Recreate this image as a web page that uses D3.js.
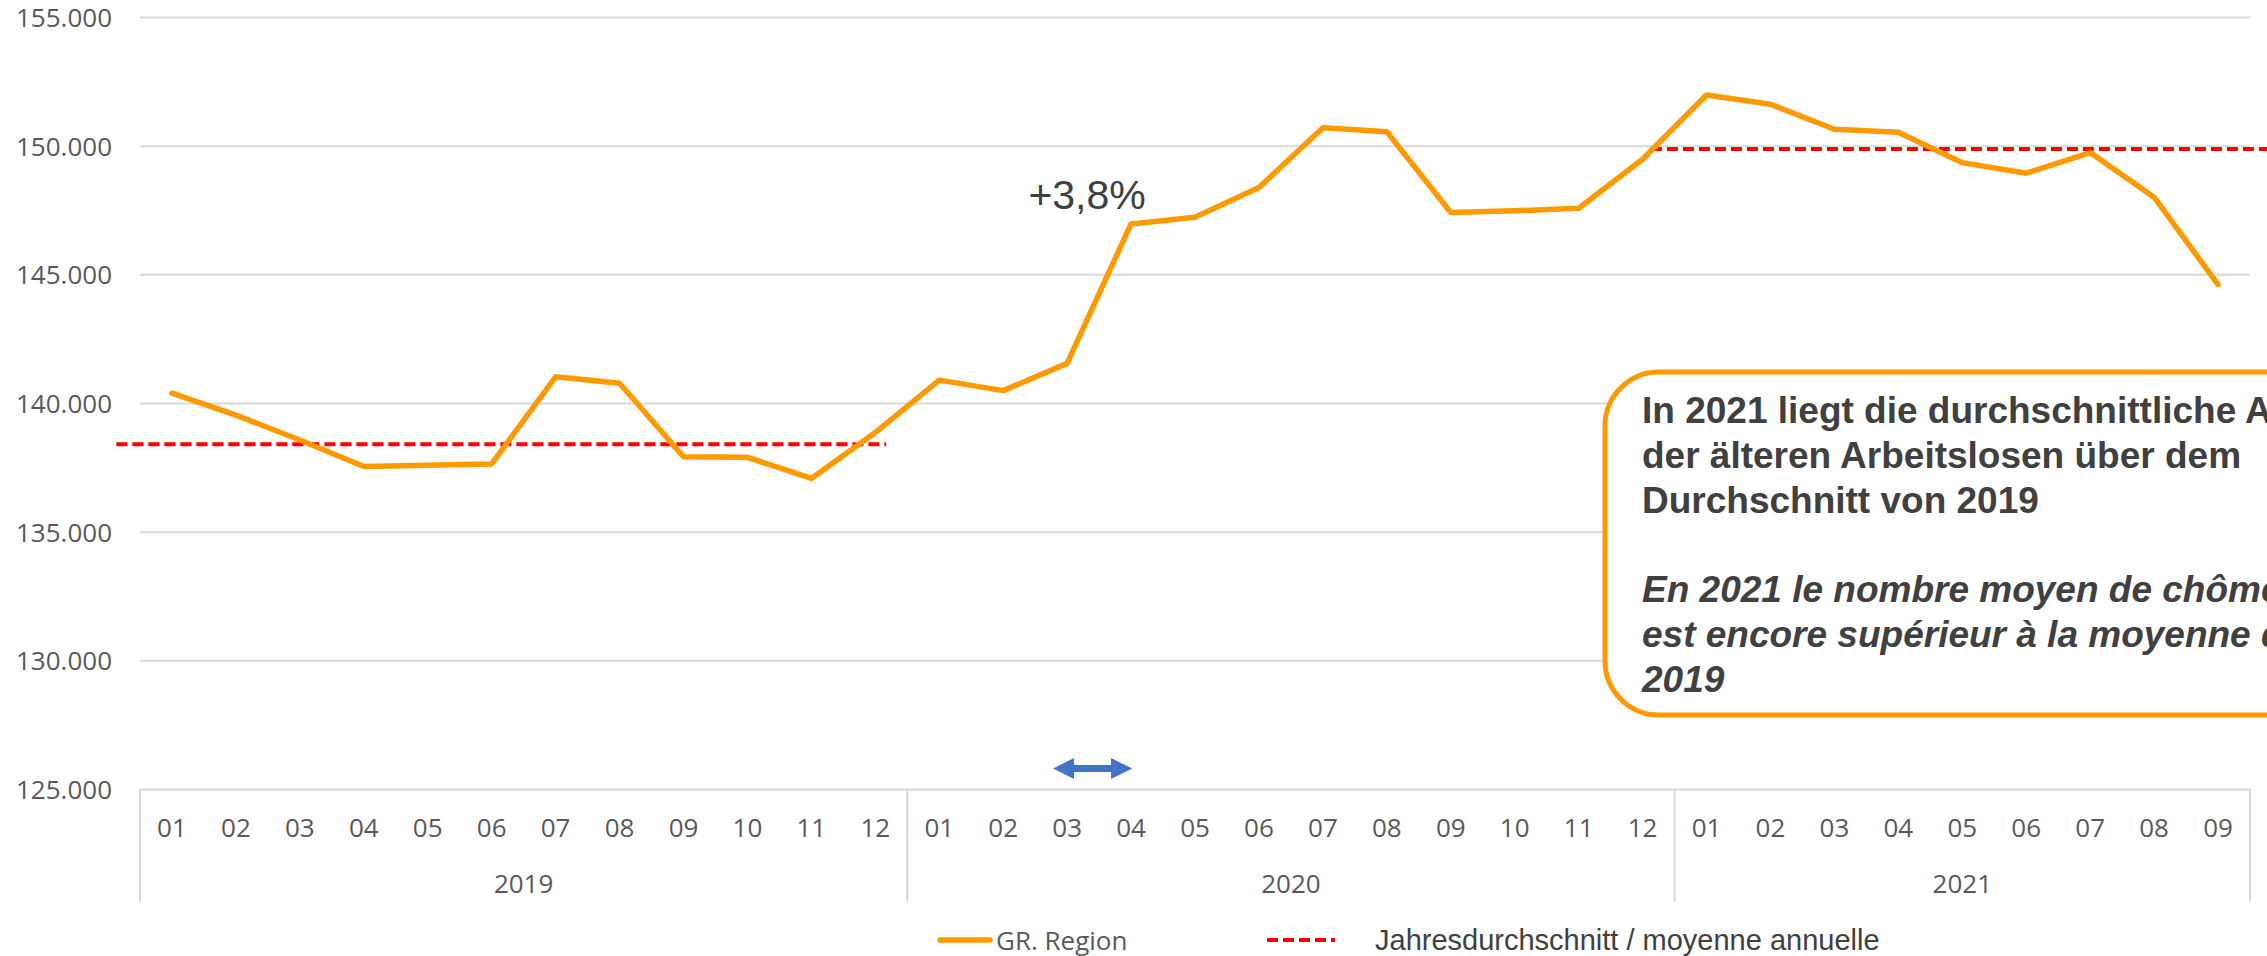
<!DOCTYPE html>
<html>
<head>
<meta charset="utf-8">
<script src="https://cdn.jsdelivr.net/npm/d3@7"></script>
<style>
  html, body { margin: 0; padding: 0; background: #fff; overflow: hidden; }
  svg { display: block; }
</style>
</head>
<body>
<svg id="chart" width="2267" height="956"></svg>
<script>
// ---------------- DATA ----------------
const years = ["2019", "2020", "2021"];
const months = ["01","02","03","04","05","06","07","08","09","10","11","12"];
const monthsPerYear = [12, 12, 9];

const values2019 = [140380, 139530, 138560, 137530, 137580, 137630, 141020, 140770, 137910, 137890, 137070, 138850];
const values2020 = [140890, 140480, 141540, 146960, 147220, 148370, 150700, 150540, 147400, 147470, 147570, 149470];
const values2021 = [151970, 151610, 150640, 150520, 149340, 148930, 149730, 148000, 144600];

const avgYears = ["2019", "2021"];
const avgValues = [138400, 149870];

const yTicks = [125000, 130000, 135000, 140000, 145000, 150000, 155000];

const seriesName = "GR. Region";
const avgName = "Jahresdurchschnitt / moyenne annuelle";
const changeLabel = "+3,8%";
const boxLinesBold = [
  "In 2021 liegt die durchschnittliche Anzahl",
  "der älteren Arbeitslosen über dem",
  "Durchschnitt von 2019"
];
const boxLinesItalic = [
  "En 2021 le nombre moyen de chômeurs âgés",
  "est encore supérieur à la moyenne de",
  "2019"
];

// ---------------- BUILD ----------------
const allValues = [values2019, values2020, values2021];
const data = [];
years.forEach((yr, yi) => {
  for (let m = 0; m < monthsPerYear[yi]; m++) {
    data.push({ key: yr + "-" + months[m], year: yr, month: months[m], value: allValues[yi][m] });
  }
});

const W = 2267, H = 956;
const plotLeft = 140, plotRight = 2250, plotTop = 17, plotBottom = 789;
const orange = "#FF9900";
const textGrey = "#595959";

const svg = d3.select("#chart");

const x = d3.scaleBand().domain(data.map(d => d.key)).range([plotLeft, plotRight]).padding(0);
const step = x.step();
const xc = k => x(k) + x.bandwidth() / 2;
const y = d3.scaleLinear().domain([125000, 155000]).range([plotBottom, plotTop]);

const de = d3.formatLocale({ decimal: ",", thousands: ".", grouping: [3], currency: ["", "€"] });
const fmt = de.format(",.0f");

// Y axis with gridlines
const yAxis = d3.axisLeft(y)
  .tickValues(yTicks)
  .tickFormat(fmt)
  .tickSize(-(plotRight - plotLeft))
  .tickPadding(28);

const gy = svg.append("g")
  .attr("transform", `translate(${plotLeft},0)`)
  .call(yAxis);
gy.select(".domain").remove();
gy.selectAll(".tick line").attr("stroke", "#d9d9d9").attr("stroke-width", 2);
gy.selectAll(".tick text")
  .attr("fill", textGrey)
  .attr("font-family", "'Open Sans', sans-serif")
  .attr("font-size", 26)
  .attr("dy", "0.36em");

// X axis: month labels
const xAxis = d3.axisBottom(x).tickSize(0).tickPadding(0).tickFormat(k => k.split("-")[1]);
const gx = svg.append("g")
  .attr("transform", `translate(0,${plotBottom})`)
  .call(xAxis);
gx.select(".domain").remove();
gx.selectAll(".tick text")
  .attr("fill", textGrey)
  .attr("font-family", "'Open Sans', sans-serif")
  .attr("font-size", 26)
  .attr("y", 48)
  .attr("dy", 0);

// Year group separators and labels
const yearStarts = years.map(yr => data.find(d => d.year === yr).key);
const sepX = [plotLeft];
years.forEach((yr, i) => {
  const keys = data.filter(d => d.year === yr).map(d => d.key);
  const endX = x(keys[keys.length - 1]) + step;
  sepX.push(endX);
});
svg.append("g").selectAll("line").data(sepX).join("line")
  .attr("x1", d => d).attr("x2", d => d)
  .attr("y1", plotBottom).attr("y2", 902)
  .attr("stroke", "#d9d9d9").attr("stroke-width", 2);

svg.append("g").selectAll("text").data(years).join("text")
  .attr("x", (yr) => {
    const keys = data.filter(d => d.year === yr).map(d => d.key);
    return (x(keys[0]) + x(keys[keys.length - 1]) + step) / 2;
  })
  .attr("y", 893)
  .attr("text-anchor", "middle")
  .attr("fill", textGrey)
  .attr("font-family", "'Open Sans', sans-serif")
  .attr("font-size", 26)
  .text(d => d);

// Average lines
svg.append("g").selectAll("line").data(avgYears.map((yr, i) => ({ yr, v: avgValues[i] }))).join("line")
  .attr("x1", d => x(d.yr + "-01") - 0.37 * step)
  .attr("x2", d => x(d.yr + "-01") + 11.67 * step)
  .attr("y1", d => y(d.v)).attr("y2", d => y(d.v))
  .attr("stroke", "#FF0000")
  .attr("stroke-width", 4)
  .attr("stroke-dasharray", "11,5");

// Main line
const line = d3.line().x(d => xc(d.key)).y(d => y(d.value));
svg.append("path")
  .datum(data)
  .attr("d", line)
  .attr("fill", "none")
  .attr("stroke", orange)
  .attr("stroke-width", 5.5)
  .attr("stroke-linejoin", "round")
  .attr("stroke-linecap", "round");

// +3,8% annotation
svg.append("text")
  .attr("x", (xc("2020-03") + xc("2020-04")) / 2 - 12)
  .attr("y", 209)
  .attr("text-anchor", "middle")
  .attr("fill", "#404040")
  .attr("font-family", "'Liberation Sans', Arial, sans-serif")
  .attr("font-size", 41)
  .text(changeLabel);

// Blue double arrow
const ax0 = xc("2020-03") - 14, ax1 = xc("2020-04") + 1, ay = 768.5;
const headL = 21, headH = 10.5, shaft = 3.5;
svg.append("path")
  .attr("d", `M${ax0},${ay} L${ax0 + headL},${ay - headH} L${ax0 + headL},${ay - shaft} L${ax1 - headL},${ay - shaft} L${ax1 - headL},${ay - headH} L${ax1},${ay} L${ax1 - headL},${ay + headH} L${ax1 - headL},${ay + shaft} L${ax0 + headL},${ay + shaft} L${ax0 + headL},${ay + headH} Z`)
  .attr("fill", "#4472C4");

// Text box
svg.append("rect")
  .attr("x", 1605).attr("y", 372)
  .attr("width", 900).attr("height", 343)
  .attr("rx", 54).attr("ry", 54)
  .attr("fill", "#fff")
  .attr("stroke", orange)
  .attr("stroke-width", 5);

const boxText = svg.append("g")
  .attr("font-family", "'Liberation Sans', Arial, sans-serif")
  .attr("font-size", 37)
  .attr("font-weight", "bold")
  .attr("fill", "#404040");
const lineH = 44.8;
boxLinesBold.forEach((t, i) => {
  boxText.append("text").attr("x", 1642).attr("y", 423 + i * lineH).text(t);
});
boxLinesItalic.forEach((t, i) => {
  boxText.append("text").attr("x", 1642).attr("y", 423 + (i + 4) * lineH)
    .attr("font-style", "italic").text(t);
});

// Legend
const lg = svg.append("g");
lg.append("line")
  .attr("x1", 940).attr("x2", 990).attr("y1", 940).attr("y2", 940)
  .attr("stroke", orange).attr("stroke-width", 5.5).attr("stroke-linecap", "round");
lg.append("text")
  .attr("x", 996).attr("y", 950)
  .attr("fill", textGrey)
  .attr("font-family", "'Open Sans', sans-serif")
  .attr("font-size", 26)
  .text(seriesName);
lg.append("line")
  .attr("x1", 1267).attr("x2", 1335).attr("y1", 940).attr("y2", 940)
  .attr("stroke", "#FF0000").attr("stroke-width", 4).attr("stroke-dasharray", "11,5");
lg.append("text")
  .attr("x", 1375).attr("y", 950)
  .attr("fill", "#404040")
  .attr("font-family", "'Liberation Sans', Arial, sans-serif")
  .attr("font-size", 29)
  .text(avgName);
</script>
</body>
</html>
